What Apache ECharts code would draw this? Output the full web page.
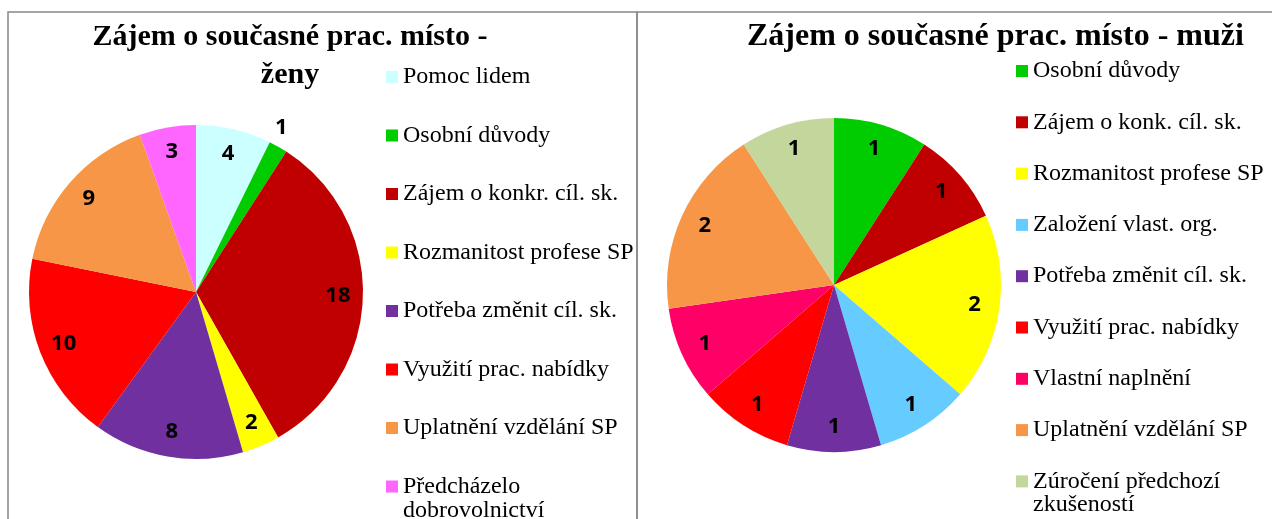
<!DOCTYPE html>
<html>
<head>
<meta charset="utf-8">
<script src="https://cdn.jsdelivr.net/npm/echarts@6/dist/echarts.min.js"></script>
<style>
  html, body { margin: 0; padding: 0; background: #fff; }
  #chart { width: 1272px; height: 519px; }
</style>
</head>
<body>
<div id="chart"></div>
<script>
// ženy (levý graf)
const zenyNames = ['Pomoc lidem', 'Osobní důvody', 'Zájem o konkr. cíl. sk.', 'Rozmanitost profese SP',
    'Potřeba změnit cíl. sk.', 'Využití prac. nabídky', 'Uplatnění vzdělání SP', 'Předcházelo dobrovolnictví'];
const zenyValues = [4, 1, 18, 2, 8, 10, 9, 3];
const zenyColors = ['#CCFFFF', '#00CC00', '#C00000', '#FFFF00', '#7030A0', '#FF0000', '#F79646', '#FF66FF'];

// muži (pravý graf)
const muziNames = ['Osobní důvody', 'Zájem o konk. cíl. sk.', 'Rozmanitost profese SP', 'Založení vlast. org.',
    'Potřeba změnit cíl. sk.', 'Využití prac. nabídky', 'Vlastní naplnění', 'Uplatnění vzdělání SP', 'Zúročení předchozí zkušeností'];
const muziValues = [1, 1, 2, 1, 1, 1, 1, 2, 1];
const muziColors = ['#00CC00', '#C00000', '#FFFF00', '#66CCFF', '#7030A0', '#FF0000', '#FF0066', '#F79646', '#C3D69B'];

// dlouhé položky legendy se lámou: první řádek v legendě, druhý zvlášť
const zenyWrap = { 'Předcházelo dobrovolnictví': ['Předcházelo', 'dobrovolnictví'] };
const muziWrap = { 'Zúročení předchozí zkušeností': ['Zúročení předchozí', 'zkušeností'] };

const serif = '"Liberation Serif", "Times New Roman", serif';
const labelFont = { fontFamily: '"Open Sans", sans-serif', fontWeight: 'bold', fontSize: 22, color: '#000' };

const chart = echarts.init(document.getElementById('chart'));

function pieData(names, values, colors) {
    return names.map((n, i) => ({ name: n, value: values[i], itemStyle: { color: colors[i] } }));
}

// prstenec jen pro popisky (aby byly dál od středu, jako v Excelu)
function labelRing(names, values, center, outsideIdx) {
    return {
        type: 'pie',
        center: center,
        radius: [111, 167],
        silent: true,
        itemStyle: { color: 'rgba(0,0,0,0)' },
        label: Object.assign({ show: true, position: 'inside', formatter: '{c}' }, labelFont),
        labelLine: { show: false },
        emphasis: { disabled: true },
        data: names.map((n, i) => {
            const d = { name: n, value: values[i] };
            if (i === outsideIdx) {
                d.label = { position: 'outside', distanceToLabelLine: 5 };
                d.labelLine = { show: false, length: 22, length2: -19 };
            }
            return d;
        })
    };
}

const legendBase = {
    orient: 'vertical',
    padding: 0,
    height: 900,
    itemWidth: 12,
    itemHeight: 12,
    icon: 'rect',
    selectedMode: false,
    textStyle: { fontFamily: serif, fontSize: 24, lineHeight: 26, color: '#000' }
};

function wrapText(x, y, str) {
    return { type: 'text', x: x, y: y, style: { text: str, font: '24px ' + serif, fill: '#000', verticalAlign: 'middle' } };
}

const option = {
    animation: false,
    backgroundColor: '#fff',
    graphic: [
        { type: 'rect', shape: { x: 8, y: 12, width: 629, height: 520 }, style: { fill: 'none', stroke: '#888', lineWidth: 1.5 } },
        { type: 'rect', shape: { x: 637, y: 12, width: 660, height: 520 }, style: { fill: 'none', stroke: '#888', lineWidth: 1.5 } },
        wrapText(403, 511, zenyWrap['Předcházelo dobrovolnictví'][1]),
        wrapText(1033, 505, muziWrap['Zúročení předchozí zkušeností'][1])
    ],
    title: [
        {
            text: 'Zájem o současné prac. místo -\nženy',
            left: 290, top: 18, padding: 0, textAlign: 'center',
            textStyle: { fontFamily: serif, fontWeight: 'bold', fontSize: 30, lineHeight: 38, color: '#000' }
        },
        {
            text: 'Zájem o současné prac. místo - muži',
            left: 747, top: 18, padding: 0,
            textStyle: { fontFamily: serif, fontWeight: 'bold', fontSize: 32, lineHeight: 38, color: '#000' }
        }
    ],
    legend: [
        Object.assign({}, legendBase, {
            left: 386, top: 64, itemGap: 32.5,
            formatter: n => zenyWrap[n] ? zenyWrap[n][0] : n,
            data: zenyNames
        }),
        Object.assign({}, legendBase, {
            left: 1016, top: 58, itemGap: 25.3,
            formatter: n => muziWrap[n] ? muziWrap[n][0] : n,
            data: muziNames
        })
    ],
    series: [
        {
            type: 'pie', center: [196, 292], radius: [0, 167],
            label: { show: false }, labelLine: { show: false },
            emphasis: { disabled: true },
            data: pieData(zenyNames, zenyValues, zenyColors)
        },
        {
            type: 'pie', center: [834, 285], radius: [0, 167],
            label: { show: false }, labelLine: { show: false },
            emphasis: { disabled: true },
            data: pieData(muziNames, muziValues, muziColors)
        },
        labelRing(zenyNames, zenyValues, [196, 292], 1),
        labelRing(muziNames, muziValues, [834, 285], -1)
    ]
};

chart.setOption(option);
</script>
</body>
</html>
